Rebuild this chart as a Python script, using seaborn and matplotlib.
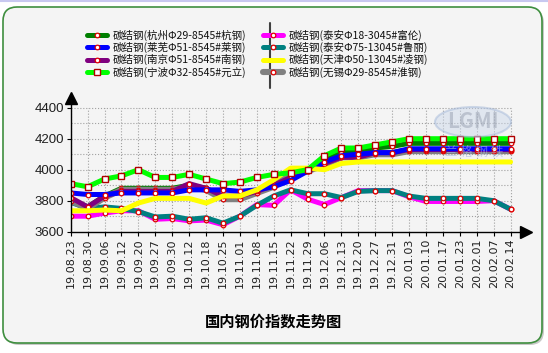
import numpy as np
import pandas as pd
import seaborn as sns
import matplotlib.pyplot as plt
from matplotlib.patches import FancyBboxPatch, Ellipse
from matplotlib.lines import Line2D

# Dates on the x axis
dates = ['19.08.23', '19.08.30', '19.09.06', '19.09.12', '19.09.20', '19.09.27', '19.09.30',
         '19.10.12', '19.10.18', '19.10.25', '19.11.01', '19.11.08', '19.11.15', '19.11.22',
         '19.11.29', '19.12.06', '19.12.13', '19.12.20', '19.12.27', '19.12.31', '20.01.03',
         '20.01.10', '20.01.17', '20.01.23', '20.02.01', '20.02.07', '20.02.14']

# Price series
hangzhou = [3810, 3760, 3830, 3880, 3880, 3880, 3880, 3900, 3880, 3820, 3820, 3860, 3920, 3960,
            4000, 4060, 4110, 4120, 4140, 4150, 4170, 4170, 4170, 4170, 4170, 4170, 4170]
laiwu = [3850, 3840, 3840, 3850, 3850, 3850, 3850, 3870, 3870, 3870, 3860, 3870, 3890, 3930,
         3990, 4050, 4090, 4100, 4110, 4110, 4135, 4135, 4135, 4135, 4135, 4135, 4135]
nanjing = [3820, 3760, 3830, 3860, 3860, 3860, 3860, 3910, 3880, 3830, 3830, 3860, 3900, 3950,
           3990, 4040, 4080, 4080, 4110, 4110, 4130, 4130, 4130, 4130, 4130, 4130, 4130]
ningbo = [3910, 3890, 3940, 3960, 4000, 3950, 3950, 3970, 3940, 3910, 3920, 3950, 3970, 3980,
          4000, 4090, 4140, 4140, 4160, 4180, 4200, 4200, 4200, 4200, 4200, 4200, 4200]
taian18 = [3700, 3700, 3720, 3735, 3735, 3680, 3685, 3670, 3675, 3645, 3700, 3775, 3770, 3870,
           3810, 3775, 3820, 3865, 3865, 3865, 3825, 3795, 3795, 3795, 3795, 3800, 3745]
taian75 = [3790, 3750, 3760, 3750, 3730, 3695, 3700, 3680, 3690, 3655, 3700, 3770, 3830, 3870,
           3845, 3845, 3820, 3860, 3865, 3865, 3830, 3815, 3815, 3815, 3815, 3800, 3745]
tianjin = [3735, 3735, 3740, 3735, 3785, 3815, 3815, 3815, 3785, 3830, 3830, 3870, 3935, 4010,
           4010, 4000, 4040, 4050, 4050, 4050, 4050, 4050, 4050, 4050, 4050, 4050, 4050]
wuxi = [3800, 3750, 3820, 3870, 3870, 3870, 3870, 3890, 3870, 3810, 3810, 3850, 3890, 3980,
        3990, 4030, 4080, 4080, 4100, 4100, 4120, 4120, 4120, 4120, 4120, 4120, 4120]

labels = ['碳结钢(杭州Φ29-8545#杭钢)', '碳结钢(莱芜Φ51-8545#莱钢)', '碳结钢(南京Φ51-8545#南钢)',
          '碳结钢(宁波Φ32-8545#元立)', '碳结钢(泰安Φ18-3045#富伦)', '碳结钢(泰安Φ75-13045#鲁丽)',
          '碳结钢(天津Φ50-13045#凌钢)', '碳结钢(无锡Φ29-8545#淮钢)']

sns.set_theme(style='white')
plt.rcParams['font.family'] = ['Noto Sans CJK SC', 'DejaVu Sans']

fig = plt.figure(figsize=(5.48, 3.53), dpi=100)
fig.patch.set_facecolor('white')

# rounded panel background with shadow
shadow = FancyBboxPatch((0.05, 0.08), 5.39, 3.36, boxstyle='round,pad=0,rounding_size=0.14',
                        transform=fig.dpi_scale_trans, facecolor='#C8C8C8', edgecolor='none', zorder=-3)
panel = FancyBboxPatch((0.03, 0.10), 5.39, 3.36, boxstyle='round,pad=0,rounding_size=0.14',
                       transform=fig.dpi_scale_trans, facecolor='#F4F4F4', edgecolor='#3F8F3F',
                       linewidth=1.2, zorder=-2)
fig.add_artist(shadow)
fig.add_artist(panel)
fig.add_artist(Line2D([0, 1], [0.998, 0.998], color='#C8C8F0', lw=1.5))

ax = fig.add_axes([70.7 / 548, (353 - 231.7) / 353, 450 / 548, 130.2 / 353])
ax.patch.set_alpha(0)

x = np.arange(len(dates))

# grid bounded to the data range
ax.vlines(x, 3600, 4400, colors='#A0A0A0', linestyles=':', linewidth=0.8, zorder=0)
ax.hlines(np.arange(3700, 4401, 100), 0, len(dates) - 1, colors='#A0A0A0', linestyles=':',
          linewidth=0.8, zorder=0)

# watermark
fig.add_artist(Ellipse((473 / 548, 1 - 122 / 353), 76 / 548, 30 / 353, facecolor='#C9D6EA',
                       edgecolor='#9DB3D6', alpha=0.45, lw=1.5))
fig.text(473 / 548, 1 - 122 / 353, 'LGMI', ha='center', va='center', fontsize=15,
         fontweight='bold', color='#9098A8', alpha=0.45)
fig.text(474 / 548, 1 - 152 / 353, '兰 格 钢 铁', ha='center', va='center', fontsize=9,
         color='#A8BCE0', alpha=0.6)

red = '#E00000'
series = {
    'hangzhou': (hangzhou, '#007F00', 'o', 3.6),
    'laiwu': (laiwu, '#0000FF', 'o', 3.6),
    'nanjing': (nanjing, '#800080', 'o', 3.6),
    'ningbo': (ningbo, '#00FF00', 's', 3.6),
    'taian18': (taian18, '#FF00FF', 'o', 3.6),
    'taian75': (taian75, '#008080', 'o', 3.6),
    'tianjin': (tianjin, '#FFFF00', None, 3.6),
    'wuxi': (wuxi, '#808080', 'o', 4.4),
}
keys = list(series.keys())
draw_order = ['taian18', 'taian75', 'hangzhou', 'wuxi', 'nanjing', 'laiwu', 'tianjin', 'ningbo']

handles = {}
for k in draw_order:
    vals, col, mk, lw = series[k]
    kws = dict(linewidth=lw, color=col)
    if mk == 's':
        kws.update(marker='s', markersize=5, markerfacecolor='white',
                   markeredgecolor='#B00000', markeredgewidth=1.0)
    elif mk == 'o':
        kws.update(marker='o', markersize=3.3, markerfacecolor='white',
                   markeredgecolor=red, markeredgewidth=0.9)
    sns.lineplot(x=x, y=vals, ax=ax, legend=False, **kws)
    handles[k] = ax.lines[-1]

ax.set_xlim(0, 26.6)
ax.set_ylim(3600, 4440)
ax.set_xticks(x)
ax.set_xticklabels(dates, rotation=90, fontsize=8, family='DejaVu Sans', color='#202020')
ax.set_yticks(np.arange(3600, 4401, 200))
ax.set_yticklabels([str(v) for v in range(3600, 4401, 200)], fontsize=9.5,
                   family='Liberation Sans', color='#202020')
ax.tick_params(axis='both', direction='out', length=3, width=0.8, color='black', pad=2,
               bottom=True, left=True)
ax.set_xlabel('')
ax.set_ylabel('')
for s in ['top', 'right']:
    ax.spines[s].set_visible(False)
for s in ['left', 'bottom']:
    ax.spines[s].set_color('black')
    ax.spines[s].set_linewidth(1.0)

# axis arrows
ax.plot(1.012, 0, marker='>', markersize=8, color='black', transform=ax.transAxes, clip_on=False)
ax.plot(0, 1.03, marker='^', markersize=8, color='black', transform=ax.transAxes, clip_on=False)

# legend
leg = fig.legend([handles[k] for k in keys], labels, ncol=2, loc='upper left',
                 bbox_to_anchor=(80 / 548, 1 - 22 / 353), frameon=False, fontsize=7.6,
                 handlelength=1.9, handletextpad=0.5, labelspacing=0.12, columnspacing=1.6,
                 borderpad=0.2)
for t in leg.get_texts():
    t.set_color('#101010')
fig.add_artist(Line2D([270 / 548, 270 / 548], [1 - 23 / 353, 1 - 88 / 353], color='#404040', lw=1.5))

fig.text(273 / 548, 1 - 322 / 353, '国内钢价指数走势图', ha='center', va='center', fontsize=11,
         fontweight='bold', color='black')

fig.savefig('out.png', dpi=100)
